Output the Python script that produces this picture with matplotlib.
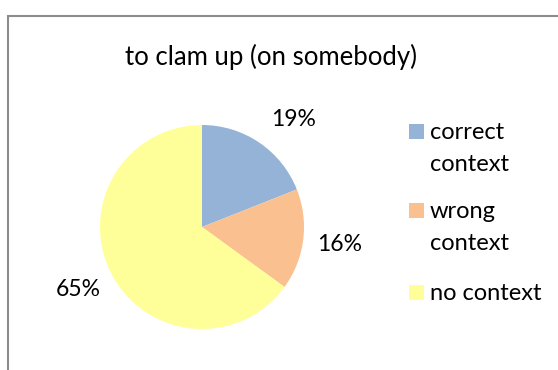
import matplotlib.pyplot as plt
from matplotlib.patches import Rectangle

# Данные диаграммы
categories = ['correct\ncontext', 'wrong\ncontext', 'no context']
shares = [19, 16, 65]
colors = ['#95B3D7', '#FAC090', '#FFFF99']
title = 'to clam up (on somebody)'

plt.rcParams['font.family'] = ['Lato', 'DejaVu Sans']

W, H = 558, 370
fig = plt.figure(figsize=(W / 100, H / 100), dpi=100)

# Рамка области диаграммы
fig.patches.append(Rectangle((8 / W, -0.1), 1.2, (H - 16) / H + 0.1,
                             transform=fig.transFigure, fill=False,
                             edgecolor='#8C8C8C', linewidth=1.5))

# Круговая диаграмма: центр (202, 227), радиус 102 пикселя
cx, cy, r = 202, 227, 102
ax = fig.add_axes([(cx - r) / W, (H - cy - r) / H, 2 * r / W, 2 * r / H])
wedges, texts = ax.pie(shares, colors=colors, startangle=90, counterclock=False,
                       labels=[f'{s}%' for s in shares], labeldistance=1.36,
                       wedgeprops=dict(linewidth=0),
                       textprops=dict(fontsize=16.5, color='black'))
for t in texts:
    t.set_horizontalalignment('center')
    t.set_verticalalignment('center')
# подпись первого сектора чуть правее и ниже
lx, ly = texts[0].get_position()
texts[0].set_position((lx + 0.13, ly - 0.07))
ax.set_xlim(-1, 1)
ax.set_ylim(-1, 1)
ax.set_aspect('equal')

fig.text(271 / W, 1 - 57 / H, title, ha='center', va='center', fontsize=18.5)

# Легенда справа: квадрат у первой строки подписи
box_x, text_x, sq, line_h = 409, 430, 15, 32
first_line_y = [131, 210, 292]
for c, label, y in zip(colors, categories, first_line_y):
    fig.patches.append(Rectangle((box_x / W, 1 - (y + sq / 2) / H), sq / W, sq / H,
                                 transform=fig.transFigure, facecolor=c,
                                 edgecolor='none'))
    for i, line in enumerate(label.split('\n')):
        fig.text(text_x / W, 1 - (y + i * line_h) / H, line, ha='left',
                 va='center_baseline', fontsize=17)

fig.savefig('out.png', dpi=100)
